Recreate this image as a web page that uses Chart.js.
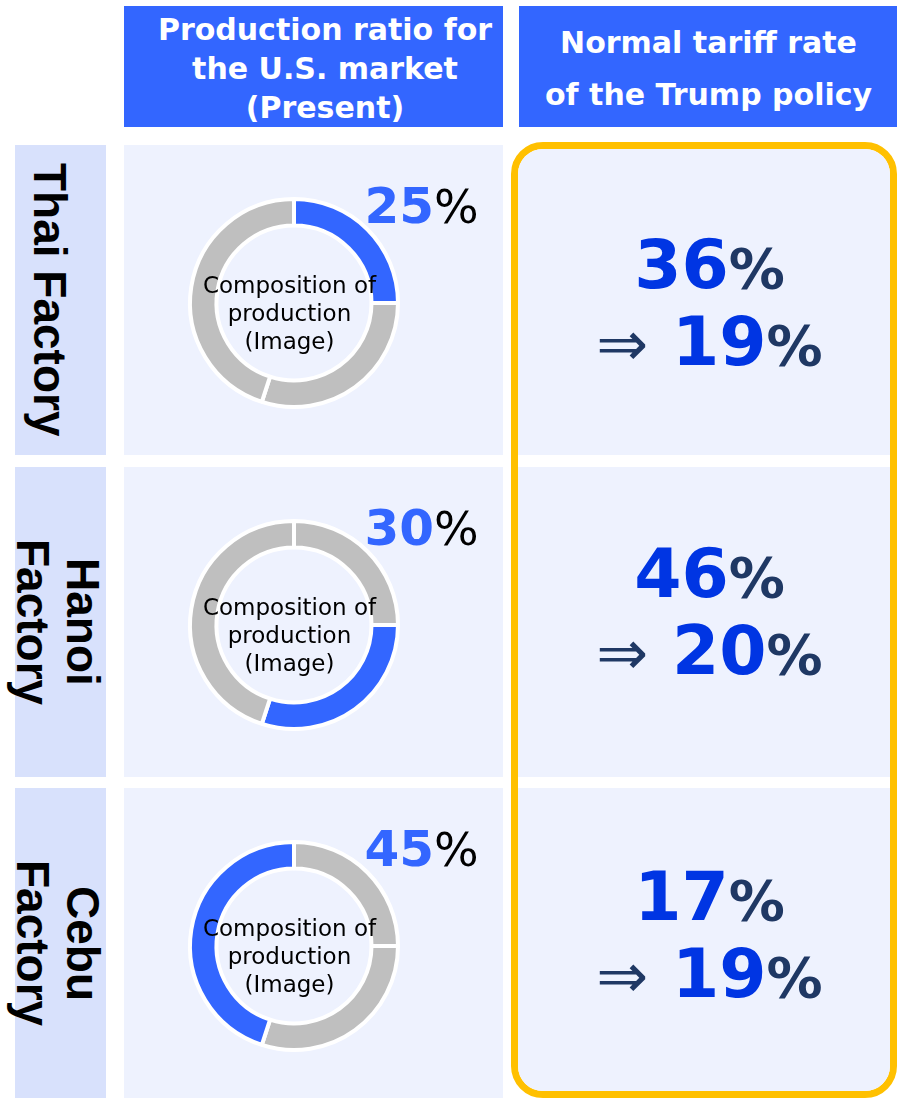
<!DOCTYPE html>
<html>
<head>
<meta charset="utf-8">
<script src="https://cdn.jsdelivr.net/npm/chart.js@4.4.1/dist/chart.umd.min.js"></script>
<style>
  html, body { margin:0; padding:0; background:#ffffff; overflow:hidden; }
  #page { width:897px; height:1098px; position:relative; overflow:hidden; background:#ffffff; }
  .abs { position:absolute; }
  .hdr { position:absolute; background:#3366FF; color:#ffffff; font-family:"DejaVu Sans", sans-serif; font-weight:bold; font-size:30px; text-align:center; box-sizing:border-box; white-space:nowrap; }
  .lab { position:absolute; left:15px; width:91px; background:#D8E1FC; }
  .labtxt { position:absolute; writing-mode:vertical-rl; font-family:"Liberation Sans", Arial, sans-serif; font-weight:bold; font-size:46px; line-height:50px; text-align:center; white-space:nowrap; color:#000; }
  .mid { position:absolute; left:124px; width:379px; background:#EEF2FE; }
  .ctr { position:absolute; width:200px; font-family:"DejaVu Sans", sans-serif; font-size:23px; line-height:28px; text-align:center; color:#000; white-space:nowrap; }
  .pct { position:absolute; font-family:"DejaVu Sans", sans-serif; font-weight:bold; font-size:50px; line-height:1; color:#3366FF; white-space:nowrap; }
  .pct .ps { font-weight:normal; font-size:47px; color:#000; }
  .box { position:absolute; left:511px; top:142px; width:386px; height:956px; border:7px solid #FFC000; border-radius:32px; box-sizing:border-box; background:#ffffff; overflow:hidden; }
  .cell { position:absolute; left:0; width:372px; background:#EEF2FE; }
  .tl { position:absolute; left:519px; width:381px; text-align:center; font-family:"DejaVu Sans", sans-serif; font-weight:bold; font-size:68px; line-height:1; white-space:nowrap; }
  .tl .d { color:#0035E3; }
  .tl .p { color:#1F3864; font-size:56px; }
  .tl .a { color:#1F3864; font-weight:normal; font-size:62px; }
</style>
</head>
<body>
<div id="page"></div>
<script>
// ---- data ----
const factories = ["Thai Factory", "Hanoi Factory", "Cebu Factory"];
const labelLines = [["Thai Factory"], ["Hanoi", "Factory"], ["Cebu", "Factory"]];
const compositionSegments = [25, 30, 45];      // production composition (image)
const usMarketShare = [25, 30, 45];            // production ratio for the U.S. market
const highlightSegment = [0, 1, 2];            // which segment is the U.S. share
const tariffNormal = [36, 46, 17];             // normal tariff rate
const tariffTrump = [19, 20, 19];              // Trump policy rate
const headerLeft = ["Production ratio for", "the U.S. market", "(Present)"];
const headerRight = ["Normal tariff rate", "of the Trump policy"];
const centerText = ["Composition of", "production", "(Image)"];

// ---- layout (positions, not data) ----
const ROW_TOP = [145, 467, 788];
const ROW_H = 310;
const TARIFF_BASE = [143, 130, 132];
const BLUE = "#3366FF", GRAY = "#BFBFBF";
const page = document.getElementById("page");

function el(cls, style, html, parent) {
  const d = document.createElement("div");
  if (cls) d.className = cls;
  Object.assign(d.style, style);
  if (html !== undefined) d.innerHTML = html;
  (parent || page).appendChild(d);
  return d;
}

// headers
el("hdr", {left:"124px", top:"6px", width:"379px", height:"121px", paddingLeft:"23px", paddingTop:"4px", lineHeight:"39px"}, headerLeft.join("<br>"));
el("hdr", {left:"519px", top:"6px", width:"378px", height:"121px", paddingLeft:"1px", paddingTop:"10.6px", lineHeight:"52px"}, headerRight.join("<br>"));

// right framed column
const box = el("box", {});
ROW_TOP.forEach((t, i) => {
  el("cell", {top:(t - 149) + "px", height:ROW_H + "px"}, undefined, box);
});

factories.forEach((name, i) => {
  const top = ROW_TOP[i];
  // label column
  el("lab", {top:top + "px", height:ROW_H + "px"});
  const nLines = labelLines[i].length;
  const right = nLines === 1 ? 75 : 108;
  el("labtxt", {top:top + "px", height:ROW_H + "px", left:(right - 50 * nLines) + "px", width:(50 * nLines) + "px"}, labelLines[i].join("<br>"));

  // middle cell
  el("mid", {top:top + "px", height:ROW_H + "px"});

  // doughnut
  const size = 232;
  const cx = 293.5, cy = top + 158;
  const wrap = el("abs", {left:(cx - size / 2) + "px", top:(cy - size / 2) + "px", width:size + "px", height:size + "px"});
  const cv = document.createElement("canvas");
  cv.width = size; cv.height = size;
  cv.style.width = size + "px"; cv.style.height = size + "px";
  wrap.appendChild(cv);
  const colors = compositionSegments.map((v, k) => k === highlightSegment[i] ? BLUE : GRAY);
  const outerR = 104, innerR = 77.5;
  new Chart(cv, {
    type: "doughnut",
    data: {
      labels: ["Segment A", "Segment B", "Segment C"],
      datasets: [{
        data: compositionSegments,
        backgroundColor: colors,
        borderColor: "#ffffff",
        borderWidth: 4,
        hoverOffset: 0
      }]
    },
    options: {
      responsive: false,
      animation: false,
      radius: outerR,
      cutout: (innerR / outerR * 100) + "%",
      layout: { padding: 0 },
      plugins: { legend: { display: false }, tooltip: { enabled: false } },
      events: []
    }
  });

  // center text
  el("ctr", {left:(289.5 - 100) + "px", top:(top + 126) + "px"}, centerText.join("<br>"));

  // U.S. share label
  el("pct", {left:"364.5px", top:(top + 36) + "px"}, usMarketShare[i] + '<span class="ps">%</span>');

  // tariff text
  const b1 = top + TARIFF_BASE[i];
  el("tl", {top:(b1 - 57.5) + "px"}, '<span class="d">' + tariffNormal[i] + '</span><span class="p">%</span>');
  el("tl", {top:(b1 + 77 - 57.5) + "px"}, '<span class="a">\u21D2</span> <span class="d">' + tariffTrump[i] + '</span><span class="p">%</span>');
});
</script>
</body>
</html>
